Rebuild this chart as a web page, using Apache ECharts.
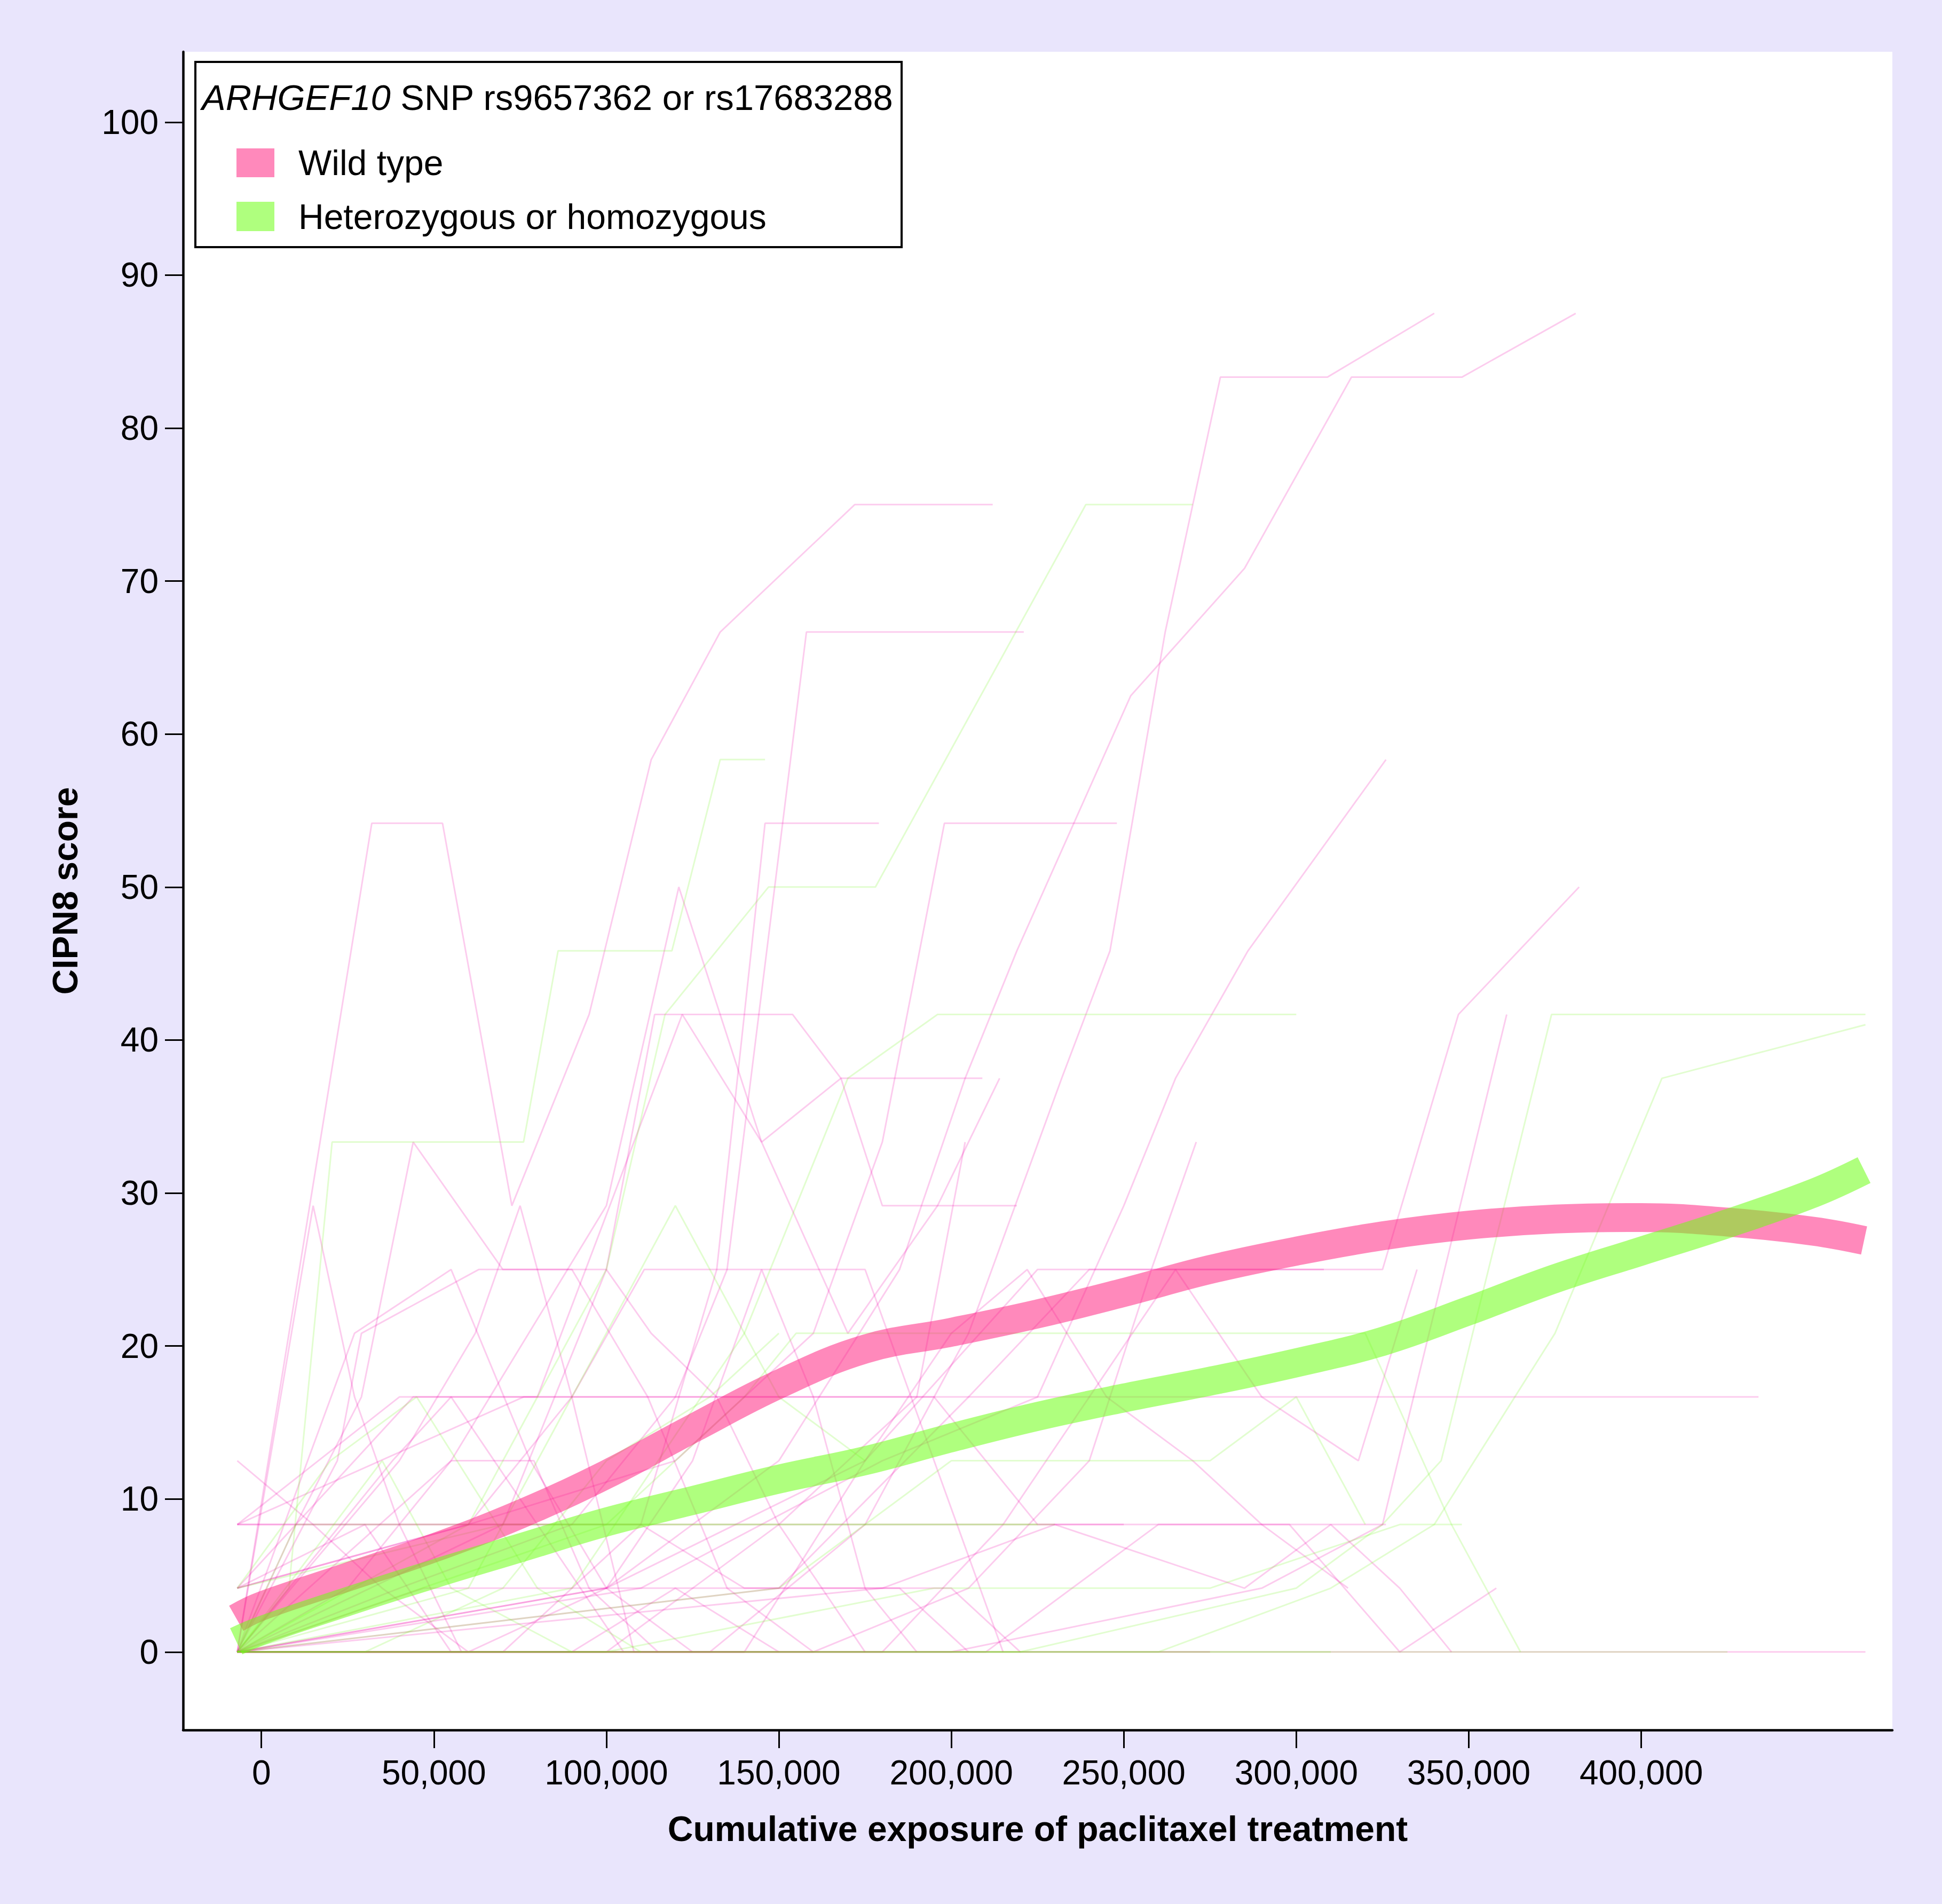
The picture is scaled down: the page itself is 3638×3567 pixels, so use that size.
<!DOCTYPE html>
<html><head><meta charset="utf-8">
<script src="https://cdn.jsdelivr.net/npm/echarts@6/dist/echarts.min.js"></script>
<style>html,body{margin:0;padding:0;background:#e9e5fc;}#c{width:3638px;height:3567px;}</style>
</head><body><div id="c"></div>
<script>
const FONT = '"Liberation Sans", Arial, Helvetica, sans-serif';
const xTickValues = [0, 50000, 100000, 150000, 200000, 250000, 300000, 350000, 400000];
const yTickValues = [0, 10, 20, 30, 40, 50, 60, 70, 80, 90, 100];

// Smoothed group trajectories
const wildTypeSmoothX = [-7300, 0, 25000, 50000, 75000, 100000, 125000, 150000, 175000, 200000, 225000, 250000, 275000, 300000, 325000, 350000, 375000, 400000, 425000, 450000, 464600];
const wildTypeSmoothY = [2.2, 3.0, 4.9, 6.8, 9.0, 11.6, 14.6, 17.5, 19.8, 20.9, 22.1, 23.5, 25.0, 26.2, 27.2, 27.9, 28.3, 28.4, 28.1, 27.5, 26.9];
const variantSmoothX = [-7300, 0, 25000, 50000, 75000, 100000, 125000, 150000, 175000, 200000, 225000, 250000, 275000, 300000, 325000, 350000, 375000, 400000, 425000, 450000, 464600];
const variantSmoothY = [0.7, 1.4, 3.3, 5.1, 6.8, 8.5, 9.9, 11.3, 12.5, 14.0, 15.4, 16.6, 17.7, 18.9, 20.3, 22.3, 24.4, 26.2, 28.0, 30.0, 31.5];

// Individual patient trajectories: [cumulative exposure, CIPN8 score]
const wildTypeLines = [
  [[-7000,0],[32000,54.17],[52500,54.17],[72600,29.17],[95000,41.67],[113000,58.33],[133000,66.67],[172000,75],[212000,75]],
  [[-7000,0],[40000,4.17],[90000,8.33],[120000,16.67],[135000,25],[158000,66.67],[221000,66.67]],
  [[-7000,0],[70000,0],[110000,8.33],[132000,25],[146000,54.17],[179000,54.17]],
  [[-7000,0],[100000,4.17],[150000,12.5],[185000,25],[204000,37.5],[219000,45.83],[252000,62.5],[285000,70.83],[316000,83.33],[348000,83.33],[381000,87.5]],
  [[-7000,0],[130000,0],[175000,8.33],[205000,20.83],[232000,37.5],[246000,45.83],[262000,66.67],[278000,83.33],[309000,83.33],[340000,87.5]],
  [[-7000,4.17],[60000,8.33],[120000,12.5],[160000,20.83],[180000,33.33],[198000,54.17],[248000,54.17]],
  [[-7000,0],[110000,4.17],[180000,12.5],[225000,16.67],[250000,29.17],[265000,37.5],[286000,45.83],[326000,58.33]],
  [[-7000,0],[150000,4.17],[205000,16.67],[240000,25],[325000,25],[347000,41.67],[382000,50]],
  [[-7000,0],[200000,0],[290000,4.17],[325000,8.33],[343000,25],[361000,41.67]],
  [[-7000,0],[160000,0],[205000,4.17],[240000,12.5],[258000,25],[271000,33.33]],
  [[-7000,0],[70000,8.33],[100000,25],[114000,41.67],[154000,41.67],[168000,37.5],[180000,29.17],[219000,29.17]],
  [[-7000,0],[55000,12.5],[100000,29.17],[121000,50],[145000,33.33],[168000,37.5],[209000,37.5]],
  [[-7000,8.33],[40000,16.67],[80000,16.67],[122000,41.67],[145000,33.33],[170000,20.83],[196000,29.17],[214000,37.5]],
  [[-7000,0],[15000,29.17],[27000,16.67],[40000,8.33],[58000,0]],
  [[-7000,0],[10000,8.33],[29000,16.67],[44000,33.33],[70000,25],[90000,25],[112000,16.67],[135000,4.17],[160000,0]],
  [[-7000,0],[22000,12.5],[29000,20.83],[63000,25],[100000,25],[113000,20.83],[132000,16.67],[150000,8.33],[175000,0]],
  [[-7000,0],[40000,12.5],[62000,20.83],[75000,29.17],[90000,16.67],[108000,0],[140000,0]],
  [[-7000,4.17],[44000,16.67],[434000,16.67]],
  [[-7000,8.33],[76000,16.67],[195000,16.67],[225000,8.33],[250000,8.33]],
  [[-7000,8.33],[326000,8.33]],
  [[-7000,8.33],[110000,8.33],[140000,4.17],[200000,4.17],[220000,0]],
  [[-7000,0],[47000,4.17],[185000,4.17],[205000,0]],
  [[-7000,0],[465000,0]],
  [[-7000,0],[275000,0]],
  [[-7000,0],[210000,0],[260000,8.33],[298000,8.33],[330000,0],[358000,4.17]],
  [[-7000,0],[180000,4.17],[230000,8.33],[285000,4.17],[310000,8.33],[330000,4.17],[345000,0]],
  [[-7000,0],[100000,4.17],[175000,12.5],[225000,25],[308000,25]],
  [[-7000,4.17],[60000,8.33],[90000,16.67],[111000,25],[175000,25],[195000,12.5],[215000,0]],
  [[-7000,12.5],[15000,8.33],[35000,4.17],[60000,0]],
  [[-7000,0],[27000,20.83],[55000,25],[78000,12.5],[100000,4.17],[125000,0]],
  [[-7000,0],[38000,12.5],[55000,16.67],[80000,8.33],[105000,0]],
  [[-7000,0],[25000,4.17],[55000,12.5],[79000,12.5],[95000,4.17],[115000,0]],
  [[-7000,4.17],[30000,8.33],[55000,0],[90000,0],[120000,4.17],[150000,0]],
  [[-7000,0],[140000,0],[175000,12.5],[200000,20.83],[222000,25],[245000,16.67],[270000,12.5],[290000,8.33],[315000,4.17]],
  [[-7000,0],[180000,0],[215000,8.33],[240000,16.67],[265000,25],[290000,16.67],[318000,12.5],[335000,25]],
  [[-7000,0],[100000,0],[150000,8.33],[190000,16.67],[204000,33.33]],
  [[-7000,0],[60000,0],[100000,4.17],[125000,12.5],[145000,25],[160000,16.67],[175000,4.17],[190000,0]]
];
const variantLines = [
  [[-7000,0],[8000,4.17],[20500,33.33],[76000,33.33],[86000,45.83],[119000,45.83],[133000,58.33],[146000,58.33]],
  [[-7000,0],[60000,8.33],[100000,25],[117000,41.67],[147000,50],[178000,50],[239000,75],[270000,75]],
  [[-7000,0],[90000,4.17],[140000,20.83],[170000,37.5],[196000,41.67],[300000,41.67]],
  [[-7000,0],[220000,0],[300000,4.17],[325000,8.33],[342000,12.5],[374000,41.67],[465000,41.67]],
  [[-7000,0],[260000,0],[310000,4.17],[340000,8.33],[375000,20.83],[406000,37.5],[465000,41]],
  [[-7000,0],[100000,8.33],[140000,16.67],[155000,20.83],[320000,20.83],[345000,8.33],[365000,0]],
  [[-7000,0],[10000,8.33],[225000,8.33]],
  [[-7000,4.17],[70000,8.33],[230000,8.33]],
  [[-7000,0],[425000,0]],
  [[-7000,0],[310000,0]],
  [[-7000,0],[150000,4.17],[200000,12.5],[275000,12.5],[300000,16.67],[320000,8.33]],
  [[-7000,0],[100000,0],[195000,4.17],[275000,4.17],[330000,8.33],[348000,8.33]],
  [[-7000,0],[60000,4.17],[120000,29.17],[150000,16.67],[175000,12.5]],
  [[-7000,4.17],[20000,12.5],[45000,16.67],[80000,4.17],[110000,0]],
  [[-7000,0],[35000,12.5],[55000,4.17],[90000,0]],
  [[-7000,0],[30000,0],[70000,4.17],[100000,12.5],[130000,16.67],[150000,20.83]]
];

const zip = (xs, ys) => xs.map((x, i) => [x, ys[i]]);
const fmt = v => String(v).replace(/\B(?=(\d{3})+(?!\d))/g, ',');

const thin = (pts, i, color, prefix) => ({
  type: 'line', name: prefix + i, data: pts, symbol: 'none', showSymbol: false,
  silent: true, animation: false, z: 2,
  lineStyle: { width: 3, color: color },
  emphasis: { disabled: true }
});

const series = []
  .concat(wildTypeLines.map((p, i) => thin(p, i, 'rgba(240,0,170,0.2)', 'wt')))
  .concat(variantLines.map((p, i) => thin(p, i, 'rgba(110,245,20,0.2)', 'var')))
  .concat([
    { type: 'line', name: 'Wild type', data: zip(wildTypeSmoothX, wildTypeSmoothY), smooth: 0.4,
      symbol: 'none', animation: false, z: 5, silent: true,
      lineStyle: { width: 54, color: 'rgba(255,20,120,0.5)', cap: 'butt' } },
    { type: 'line', name: 'Heterozygous or homozygous', data: zip(variantSmoothX, variantSmoothY), smooth: 0.4,
      symbol: 'none', animation: false, z: 6, silent: true,
      lineStyle: { width: 54, color: 'rgba(110,255,20,0.55)', cap: 'butt' } }
  ]);

const chart = echarts.init(document.getElementById('c'), null, { renderer: 'svg', width: 3638, height: 3567 });
chart.setOption({
  backgroundColor: '#e9e5fc',
  animation: false,
  textStyle: { fontFamily: FONT },
  grid: { left: 343, right: 93, top: 97, bottom: 326, show: true, backgroundColor: '#ffffff', borderWidth: 0, containLabel: false },
  xAxis: {
    type: 'value', min: -22700, max: 472800,
    axisLine: { show: true, onZero: false, lineStyle: { color: '#000', width: 4.5 } },
    axisTick: { show: true, length: 34, lineStyle: { color: '#000', width: 3 }, customValues: xTickValues },
    axisLabel: { customValues: xTickValues, formatter: fmt, fontSize: 64, color: '#000', margin: 48, fontFamily: FONT },
    splitLine: { show: false },
    name: 'Cumulative exposure of paclitaxel treatment', nameLocation: 'middle', nameGap: 152,
    nameTextStyle: { fontWeight: 'bold', fontSize: 66, color: '#000', fontFamily: FONT }
  },
  yAxis: {
    type: 'value', min: -5.1, max: 104.6,
    axisLine: { show: true, onZero: false, lineStyle: { color: '#000', width: 4.5 } },
    axisTick: { show: true, length: 34, lineStyle: { color: '#000', width: 3 }, customValues: yTickValues },
    axisLabel: { customValues: yTickValues, fontSize: 64, color: '#000', margin: 46, fontFamily: FONT },
    splitLine: { show: false },
    name: 'CIPN8 score', nameLocation: 'middle', nameGap: 188,
    nameTextStyle: { fontWeight: 'bold', fontSize: 66, color: '#000', fontFamily: FONT }
  },
  graphic: [
    { type: 'rect', z: 100, shape: { x: 366, y: 116, width: 1323, height: 347 },
      style: { fill: '#ffffff', stroke: '#000', lineWidth: 4 } },
    { type: 'text', z: 101, x: 378, y: 182,
      style: { text: '{i|ARHGEF10} SNP rs9657362 or rs17683288', fontSize: 67, fontFamily: FONT, fill: '#000',
        align: 'left', verticalAlign: 'middle',
        rich: { i: { fontStyle: 'italic', fontSize: 67, fontFamily: FONT, fill: '#000' } } } },
    { type: 'rect', z: 101, shape: { x: 443, y: 278, width: 71, height: 54 },
      style: { fill: 'rgba(255,20,120,0.5)' } },
    { type: 'text', z: 101, x: 559, y: 305,
      style: { text: 'Wild type', fontSize: 66, fontFamily: FONT, fill: '#000', align: 'left', verticalAlign: 'middle' } },
    { type: 'rect', z: 101, shape: { x: 443, y: 378, width: 71, height: 55 },
      style: { fill: 'rgba(110,255,20,0.55)' } },
    { type: 'text', z: 101, x: 559, y: 406,
      style: { text: 'Heterozygous or homozygous', fontSize: 66, fontFamily: FONT, fill: '#000', align: 'left', verticalAlign: 'middle' } }
  ],
  series: series
});
</script>
</body></html>
